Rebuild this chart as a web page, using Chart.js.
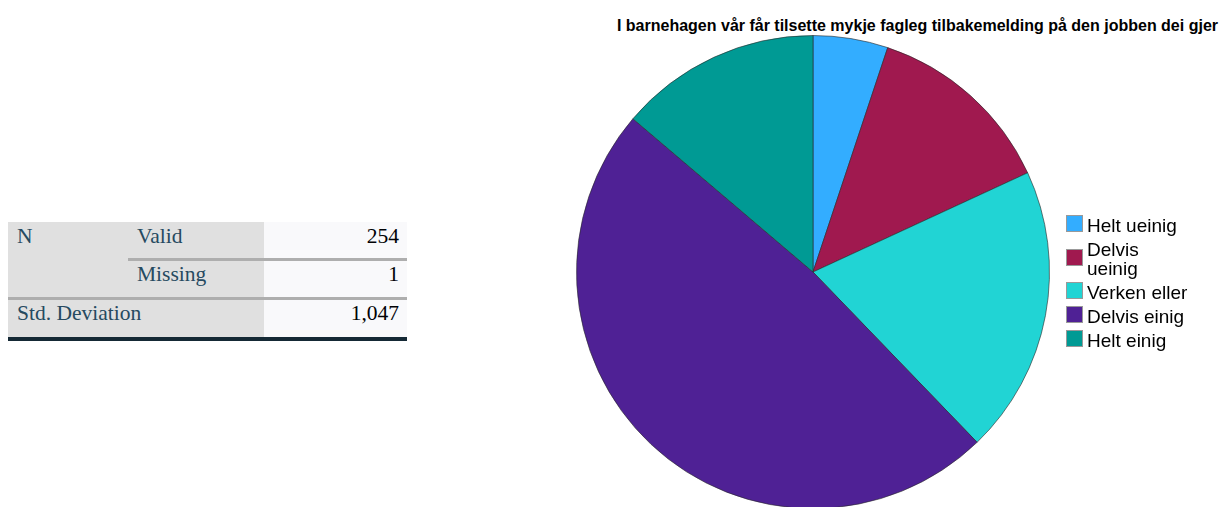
<!DOCTYPE html>
<html>
<head>
<meta charset="utf-8">
<script src="https://cdn.jsdelivr.net/npm/chart.js@4"></script>
<style>
  html, body { margin: 0; padding: 0; width: 1221px; height: 507px; overflow: hidden; background: #fff; }
  #stats { position: absolute; left: 8px; top: 222px; border-collapse: collapse; font-family: "Liberation Serif", serif; font-size: 21.5px; color: #264a60; }
  #stats td { padding: 2px 8px 0 9px; height: 34px; line-height: 22px; vertical-align: top; box-sizing: content-box; }
  #stats .lab { background: #e0e0e0; }
  #stats .val { background: #f9f9fb; text-align: right; color: #010205; padding-right: 8px; }
  #stats tr.first td { padding-top: 3px; height: 33px; }
  #stats tr.sep td.line { border-top: 3px solid #aeaeae; }
  #stats tr.last td { height: 35px; border-bottom: 4px solid #152935; }
  #title { position: absolute; left: 560px; width: 661px; top: 17px; text-align: right; font-family: "Liberation Sans", Arial, sans-serif; font-size: 16px; font-weight: bold; color: #000; white-space: nowrap; padding-right: 3px; box-sizing: border-box; }
  #pieWrap { position: absolute; left: 560px; top: 0; width: 661px; height: 540px; }
  #legend { position: absolute; left: 1066px; top: 216px; font-family: "Liberation Sans", Arial, sans-serif; font-size: 19px; color: #000; line-height: 19px; }
  #legend .item { display: flex; align-items: center; margin-bottom: 5px; }
  #legend .box { width: 17px; height: 17px; border: 1px solid #999; margin-right: 4px; flex: none; box-sizing: border-box; position: relative; top: -2px; }
  #legend .txt { width: 130px; }
</style>
</head>
<body>
<table id="stats">
  <tr class="first">
    <td class="lab" style="width:103px">N</td>
    <td class="lab" style="width:119px">Valid</td>
    <td class="val" style="width:126px">254</td>
  </tr>
  <tr class="sep">
    <td class="lab"></td>
    <td class="lab line">Missing</td>
    <td class="val line">1</td>
  </tr>
  <tr class="sep last">
    <td class="lab line" colspan="2">Std. Deviation</td>
    <td class="val line">1,047</td>
  </tr>
</table>

<div id="title">I barnehagen vår får tilsette mykje fagleg tilbakemelding på den jobben dei gjer</div>
<div id="pieWrap"><canvas id="pieChart" width="661" height="540"></canvas></div>
<div id="legend"></div>

<script>
const categories = ["Helt ueinig", "Delvis ueinig", "Verken eller", "Delvis einig", "Helt einig"];
const counts = [13, 33, 50, 123, 35];
const sliceColors = ["#33adff", "#a0194f", "#21d4d4", "#4f2195", "#009a94"];

const ctx = document.getElementById("pieChart");
new Chart(ctx.getContext("2d"), {
    type: "pie",
    data: {
        labels: categories,
        datasets: [{
            data: counts,
            backgroundColor: sliceColors,
            borderColor: "rgba(40, 40, 40, 0.6)",
            borderWidth: 1
        }]
    },
    options: {
        responsive: false,
        animation: false,
        layout: { padding: { left: 16, right: 171, top: 35, bottom: 31 } },
        plugins: {
            legend: { display: false },
            tooltip: { enabled: false },
            title: { display: false }
        }
    }
});

// legende a droite
const legend = document.getElementById("legend");
categories.forEach((name, i) => {
    const item = document.createElement("div");
    item.className = "item";
    const box = document.createElement("div");
    box.className = "box";
    box.style.background = sliceColors[i];
    const txt = document.createElement("div");
    txt.className = "txt";
    txt.textContent = name;
    if (name === "Delvis ueinig") txt.style.width = "70px";
    item.appendChild(box);
    item.appendChild(txt);
    legend.appendChild(item);
});
</script>
</body>
</html>
